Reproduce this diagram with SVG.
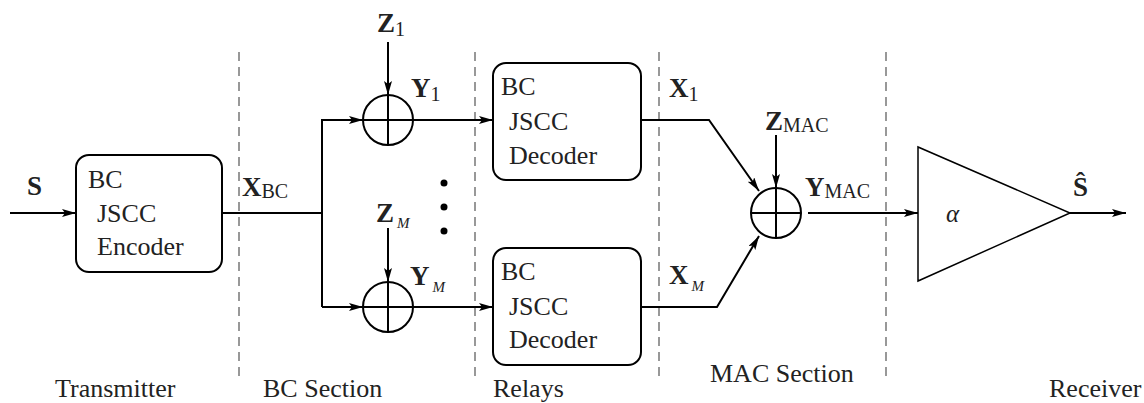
<svg xmlns="http://www.w3.org/2000/svg" width="1144" height="403" viewBox="0 0 1144 403">
<defs>
<style>
.ln{stroke:#000;stroke-width:2;fill:none}
.dash{stroke:#777;stroke-width:1.5;stroke-dasharray:9,6;fill:none}
.box{stroke:#000;stroke-width:2;fill:#fff}
text{font-family:"Liberation Serif","Times New Roman",serif;fill:#222}
.t{font-size:26px}
.b{font-size:27px;font-weight:bold}
.s{font-size:20px;font-weight:normal}
.si{font-size:15px;font-style:italic;font-weight:normal}
.lab{font-size:26px}
</style>
<marker id="ah" markerWidth="14" markerHeight="8" refX="14" refY="4" orient="auto" markerUnits="userSpaceOnUse">
<path d="M0,0 L14,4 L0,8 L3,4 Z" fill="#000"/>
</marker>
</defs>
<rect width="1144" height="403" fill="#fff"/>
<g id="dividers">
<line class="dash" x1="239" y1="52" x2="239" y2="382"/>
<line class="dash" x1="475" y1="52" x2="475" y2="382"/>
<line class="dash" x1="659" y1="52" x2="659" y2="382"/>
<line class="dash" x1="886" y1="52" x2="886" y2="382"/>
</g>
<g id="connectors">
<line class="ln" x1="10" y1="213" x2="76" y2="213" marker-end="url(#ah)"/>
<polyline class="ln" points="222,213 322,213"/>
<polyline class="ln" points="322,307 322,120 363,120" marker-end="url(#ah)"/>
<polyline class="ln" points="322,307 363,307" marker-end="url(#ah)"/>
<line class="ln" x1="388" y1="42" x2="388" y2="95" marker-end="url(#ah)"/>
<line class="ln" x1="388" y1="228" x2="388" y2="282" marker-end="url(#ah)"/>
<line class="ln" x1="413" y1="120" x2="493" y2="120" marker-end="url(#ah)"/>
<line class="ln" x1="413" y1="307" x2="493" y2="307" marker-end="url(#ah)"/>
<polyline class="ln" points="641,120 709,120 759,191" marker-end="url(#ah)"/>
<polyline class="ln" points="641,307 717,307 759,236" marker-end="url(#ah)"/>
<line class="ln" x1="776" y1="135" x2="776" y2="188" marker-end="url(#ah)"/>
<line class="ln" x1="808" y1="213" x2="918" y2="213" marker-end="url(#ah)"/>
<line class="ln" x1="1070" y1="213" x2="1126" y2="213" marker-end="url(#ah)"/>
</g>
<g id="encoder">
<rect class="box" x="76" y="155" width="146" height="117" rx="13"/>
<text class="t" x="88" y="188">BC</text>
<text class="t" x="97" y="222">JSCC</text>
<text class="t" x="97" y="255">Encoder</text>
</g>
<g id="sum1">
<circle class="ln" cx="388" cy="120" r="25"/>
<line class="ln" x1="363" y1="120" x2="413" y2="120"/>
<line class="ln" x1="388" y1="95" x2="388" y2="145"/>
</g>
<g id="sumM">
<circle class="ln" cx="388" cy="307" r="25"/>
<line class="ln" x1="363" y1="307" x2="413" y2="307"/>
<line class="ln" x1="388" y1="282" x2="388" y2="332"/>
</g>
<g id="decoder1">
<rect class="box" x="493" y="63" width="148" height="117" rx="13"/>
<text class="t" x="501" y="95">BC</text>
<text class="t" x="509" y="130">JSCC</text>
<text class="t" x="509" y="164">Decoder</text>
</g>
<g id="decoderM">
<rect class="box" x="493" y="248" width="148" height="117" rx="13"/>
<text class="t" x="501" y="280">BC</text>
<text class="t" x="509" y="315">JSCC</text>
<text class="t" x="509" y="348">Decoder</text>
</g>
<g id="sumMAC">
<circle class="ln" cx="776" cy="213" r="25"/>
<line class="ln" x1="751" y1="213" x2="801" y2="213"/>
<line class="ln" x1="776" y1="188" x2="776" y2="238"/>
</g>
<g id="amplifier">
<polygon points="918,147 918,281 1070,213" fill="#fff" stroke="#000" stroke-width="1.5"/>
<text x="946" y="222" font-size="25" font-style="italic">α</text>
</g>
<g id="dots">
<circle cx="444" cy="183" r="3.5" fill="#000"/>
<circle cx="444" cy="207" r="3.5" fill="#000"/>
<circle cx="444" cy="231" r="3.5" fill="#000"/>
</g>
<g id="labels">
<text class="b" x="27" y="195">S</text>
<text class="b" x="242" y="196">X<tspan class="s" dy="2">BC</tspan></text>
<text class="b" x="377" y="32">Z<tspan class="s" dy="4">1</tspan></text>
<text class="b" x="411" y="97">Y<tspan class="s" dy="4">1</tspan></text>
<text class="b" x="376" y="222">Z<tspan class="si" dx="3" dy="6">M</tspan></text>
<text class="b" x="410" y="285">Y<tspan class="si" dx="3" dy="7">M</tspan></text>
<text class="b" x="669" y="97">X<tspan class="s" dy="4">1</tspan></text>
<text class="b" x="669" y="284">X<tspan class="si" dx="3" dy="7">M</tspan></text>
<text class="b" x="765" y="130">Z<tspan class="s" dy="2">MAC</tspan></text>
<text class="b" x="805" y="196">Y<tspan class="s" dy="2">MAC</tspan></text>
<text class="b" x="1073" y="196">Ŝ</text>
<text class="lab" x="55" y="397">Transmitter</text>
<text class="lab" x="263" y="397">BC Section</text>
<text class="lab" x="493" y="397">Relays</text>
<text class="lab" x="710" y="382">MAC Section</text>
<text class="lab" x="1049" y="397">Receiver</text>
</g>
</svg>
